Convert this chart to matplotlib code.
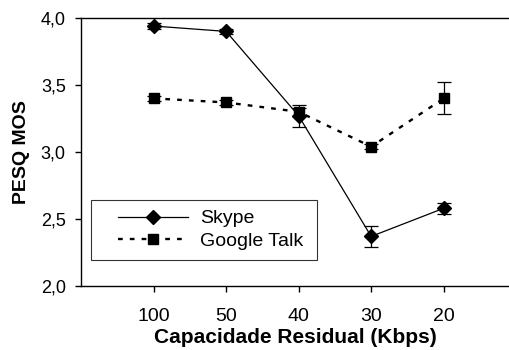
import matplotlib
matplotlib.use("Agg")
import numpy as np
import matplotlib.pyplot as plt
from matplotlib.ticker import FuncFormatter
from matplotlib.legend_handler import HandlerLine2D

categories = ["100", "50", "40", "30", "20"]
skype = [3.94, 3.90, 3.27, 2.37, 2.58]
skype_err = [0.02, 0.02, 0.08, 0.08, 0.04]
gtalk = [3.40, 3.37, 3.30, 3.04, 3.40]
gtalk_err = [0.02, 0.02, 0.03, 0.02, 0.12]
yticks = [2.0, 2.5, 3.0, 3.5, 4.0]

plt.rcParams['font.family'] = ['Liberation Sans', 'DejaVu Sans']


class ShiftedHandler(HandlerLine2D):
    def __init__(self, frac=0.2, **kw):
        super().__init__(**kw)
        self.frac = frac

    def create_artists(self, legend, orig_handle, xdescent, ydescent,
                       width, height, fontsize, trans):
        arts = super().create_artists(legend, orig_handle, xdescent, ydescent,
                                      width, height, fontsize, trans)
        shift = width * self.frac
        for a in arts:
            xd = np.asarray(a.get_xdata(), dtype=float)
            a.set_xdata(shift + xd * (1 - self.frac))
        return arts


fig = plt.figure(figsize=(5.09, 3.5), dpi=100)
ax = fig.add_axes([81/509, 1-286/350, 1-81/509, (286-18)/350])

x = list(range(1, len(categories)+1))
ax.errorbar(x, skype, yerr=skype_err, fmt='none', ecolor='black',
            capsize=4.7, elinewidth=0.9, capthick=0.9)
ax.errorbar(x, gtalk, yerr=gtalk_err, fmt='none', ecolor='black',
            capsize=4.7, elinewidth=0.9, capthick=0.9)
l1, = ax.plot(x, skype, color='black', linewidth=0.9, marker='D',
              markersize=7, label='Skype')
l2, = ax.plot(x, gtalk, color='black', linewidth=1.7, linestyle=(0, (2, 3)),
              marker='s', markersize=7, label='Google Talk')

ax.set_xlim(0, 5.9)
ax.set_ylim(2.0, 4.0)
ax.set_xticks(x)
ax.set_xticklabels(categories)
ax.set_yticks(yticks)
ax.yaxis.set_major_formatter(FuncFormatter(lambda v, p: f"{v:.1f}".replace('.', ',')))
ax.tick_params(axis='both', direction='out', length=4, width=1)
ax.tick_params(axis='x', labelsize=14, pad=12)
ax.tick_params(axis='y', labelsize=13, pad=7)

for s in ['left', 'bottom', 'top']:
    ax.spines[s].set_linewidth(1)
ax.spines['right'].set_visible(False)

ax.set_xlabel('Capacidade Residual (Kbps)', fontsize=15, fontweight='bold', labelpad=2)
ax.set_ylabel('PESQ MOS', fontsize=14, fontweight='bold', labelpad=8)

leg = ax.legend(handles=[l1, l2], loc='upper left',
                bbox_to_anchor=(10/428, 28/268, 226/428, 58/268),
                mode='expand', fontsize=14, frameon=True, fancybox=False,
                edgecolor='black', handlelength=4.5, handletextpad=0.6,
                borderaxespad=0, labelspacing=0.25, borderpad=0.5,
                handler_map={l1: ShiftedHandler(0.2), l2: ShiftedHandler(0.2)})
leg.get_frame().set_linewidth(0.8)

fig.savefig('out.png', dpi=100)
